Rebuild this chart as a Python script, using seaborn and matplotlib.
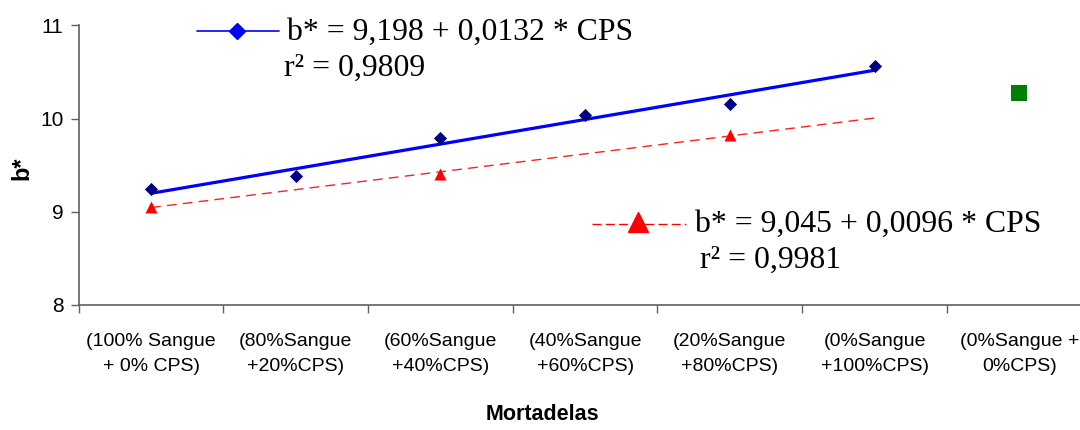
import matplotlib
matplotlib.use("Agg")
import matplotlib.pyplot as plt
from matplotlib import font_manager
from matplotlib.lines import Line2D
import seaborn as sns
import numpy as np
import pandas as pd

# ---------------- data ----------------
categories = ["(100% Sangue\n+ 0% CPS)", "(80%Sangue\n+20%CPS)", "(60%Sangue\n+40%CPS)",
              "(40%Sangue\n+60%CPS)", "(20%Sangue\n+80%CPS)", "(0%Sangue\n+100%CPS)",
              "(0%Sangue +\n0%CPS)"]
cps_levels = [0, 20, 40, 60, 80, 100]
blue_values = [9.24, 9.38, 9.79, 10.04, 10.16, 10.56]
red_cps = [0, 40, 80]
red_values = [9.05, 9.40, 9.82]
control_value = [10.27]
blue_intercept, blue_slope = 9.198, 0.0132
red_intercept, red_slope = 9.045, 0.0096
blue_eq = "b* = 9,198 + 0,0132 * CPS"
blue_r2 = "r² = 0,9809"
red_eq = "b* = 9,045 + 0,0096 * CPS"
red_r2 = "r² = 0,9981"
y_ticks = [8, 9, 10, 11]

# ---------------- fonts ----------------
def has_font(name):
    try:
        font_manager.findfont(font_manager.FontProperties(family=name), fallback_to_default=False)
        return True
    except Exception:
        return False

sans = "Liberation Sans Narrow" if has_font("Liberation Sans Narrow") else "Liberation Sans"
serif = "Liberation Serif"

sns.set_theme(style="white")
plt.rcParams["font.family"] = [sans, "DejaVu Sans"]
plt.rcParams["text.color"] = "black"
plt.rcParams["axes.labelcolor"] = "black"
plt.rcParams["xtick.color"] = "black"
plt.rcParams["ytick.color"] = "black"

W, H = 1080, 430
fig = plt.figure(figsize=(W / 100, H / 100), dpi=100)
ax_l, ax_r, ax_t, ax_b = 78.7, 1091.6, 25.3, 305.0
ax = fig.add_axes([ax_l / W, (H - ax_b) / H, (ax_r - ax_l) / W, (ax_b - ax_t) / H])

# positions
pos_blue = [c / 20 for c in cps_levels]
pos_red = [c / 20 for c in red_cps]
pos_ctrl = [len(categories) - 1]

fit_x = np.array(cps_levels, dtype=float)
df_blue_fit = pd.DataFrame({"x": fit_x / 20, "y": blue_intercept + blue_slope * fit_x})
df_red_fit = pd.DataFrame({"x": fit_x / 20, "y": red_intercept + red_slope * fit_x})

sns.lineplot(data=df_red_fit, x="x", y="y", ax=ax, color="#FF2020", lw=1.0,
             dashes=False, linestyle=(0, (7, 4.5)), zorder=2)
sns.lineplot(data=df_blue_fit, x="x", y="y", ax=ax, color="#0000FF", lw=2.3, zorder=3)

sns.scatterplot(x=pos_blue, y=blue_values, ax=ax, marker="D", s=45, color="#000080",
                edgecolor="#000080", linewidth=0, zorder=4)
sns.scatterplot(x=pos_red, y=red_values, ax=ax, marker="^", s=75, color="#FF0000",
                edgecolor="#FF0000", linewidth=0, zorder=4)
sns.scatterplot(x=pos_ctrl, y=control_value, ax=ax, marker="s", s=120, color="#008000",
                edgecolor="#008000", linewidth=0, zorder=4)

# axes styling
ax.set_xlim(-0.5, len(categories) - 0.5)
ax.set_ylim(8, 11)
ax.set_yticks(y_ticks)
ax.set_yticklabels([str(v) for v in y_ticks], fontsize=15)
ax.set_xticks(np.arange(-0.5, len(categories), 1.0))
ax.set_xticklabels([])
ax.set_xticks(np.arange(len(categories)), minor=True)
ax.set_xticklabels(categories, minor=True, fontsize=14, linespacing=1.65, color="black")
ax.tick_params(axis="x", which="major", direction="out", length=6, width=1, color="#606060", bottom=True)
ax.tick_params(axis="x", which="minor", length=0, pad=20, labelcolor="black", bottom=True)
ax.tick_params(axis="y", direction="out", length=6, width=1, color="#606060", left=True,
               pad=5, labelcolor="black")
for s in ["top", "right"]:
    ax.spines[s].set_visible(False)
for s in ["left", "bottom"]:
    ax.spines[s].set_color("#606060")
    ax.spines[s].set_linewidth(1.2)
ax.grid(False)

ax.set_xlabel("Mortadelas", fontsize=15.5, fontweight="bold", color="black")
ax.set_ylabel("b*", fontsize=17, fontweight="bold", color="black")
ax.xaxis.set_label_coords((542 - ax_l) / (ax_r - ax_l), (ax_b - 415) / (ax_b - ax_t))
ax.xaxis.label.set_va("center")
ax.yaxis.set_label_coords((22 - ax_l) / (ax_r - ax_l), (ax_b - 168) / (ax_b - ax_t))
ax.yaxis.label.set_va("center")

# equation annotations (legend-like samples)
def fx(px):
    return px / W

def fy(py):
    return (H - py) / H

fig.add_artist(Line2D([fx(197), fx(279)], [fy(30.7), fy(30.7)], color="#0000FF", lw=1.2))
fig.add_artist(Line2D([fx(237.3)], [fy(30.7)], marker="D", markersize=8.5, color="#0000FF", lw=0))
fig.text(fx(287), fy(39.5), blue_eq, family=serif, fontsize=22.9, va="baseline", ha="left", color="black")
fig.text(fx(284), fy(76), blue_r2, family=serif, fontsize=22.9, va="baseline", ha="left", color="black")

fig.add_artist(Line2D([fx(592), fx(686)], [fy(224), fy(224)], color="#FF0000", lw=1.0,
                      linestyle=(0, (6.5, 3))))
fig.add_artist(Line2D([fx(638)], [fy(222)], marker="^", markersize=15, color="#FF0000", lw=0))
fig.text(fx(695), fy(231.7), red_eq, family=serif, fontsize=22.9, va="baseline", ha="left", color="black")
fig.text(fx(700), fy(268.3), red_r2, family=serif, fontsize=22.9, va="baseline", ha="left", color="black")

fig.savefig("out.png", dpi=100)
